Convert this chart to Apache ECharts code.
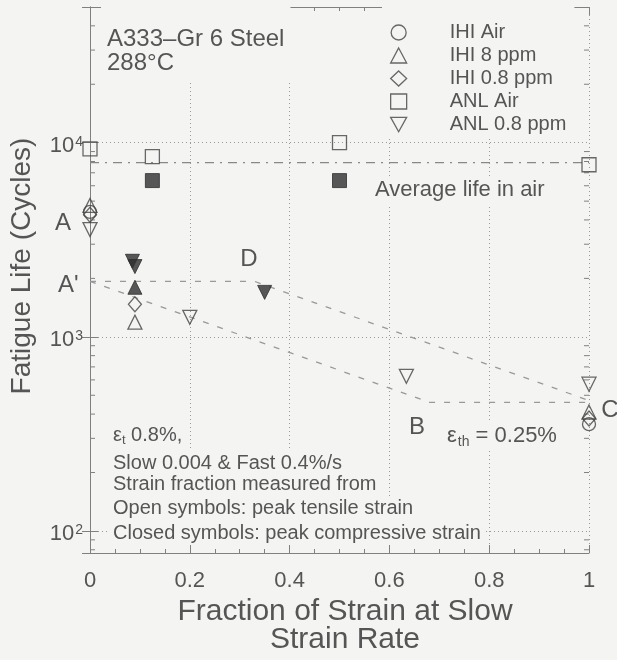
<!DOCTYPE html>
<html><head><meta charset="utf-8">
<script src="https://cdn.jsdelivr.net/npm/echarts@6/dist/echarts.min.js"></script>
<style>html,body{margin:0;padding:0;background:#f4f4f2}#c{width:617px;height:660px}</style>
</head><body><div id="c"></div>
<script>
// ---- data ----
const xTickValues = [0, 0.2, 0.4, 0.6, 0.8, 1];
const yMajorTicks = [100, 1000, 10000];
const yMinorTicks = [80, 90, 200, 300, 400, 500, 600, 700, 800, 900,
  2000, 3000, 4000, 5000, 6000, 7000, 8000, 9000, 20000, 30000, 40000];
const ihiAirOpen = [[0, 4400], [1, 355]];
const ihi8Open = [[0, 4750], [0.09, 1190], [1, 410]];
const ihi8Closed = [[0.09, 1800]];
const ihi08Open = [[0, 4250], [0.09, 1470], [1, 380]];
const anlAirOpen = [[0, 9300], [0.125, 8470], [0.5, 10000], [1, 7700]];
const anlAirClosed = [[0.125, 6380], [0.5, 6380]];
const anl08Open = [[0, 3570], [0.2, 1260], [0.634, 626], [1, 570]];
const anl08Closed = [[0.085, 2450], [0.09, 2300], [0.35, 1694]];
const avgLifeAir = [[0, 7900], [1, 7900]];
const upperTrend = [[0, 1930], [0.33, 1930], [1, 470]];
const lowerTrend = [[0, 1930], [0.68, 460], [1, 460]];
const legendNames = ['IHI Air', 'IHI 8 ppm', 'IHI 0.8 ppm', 'ANL Air', 'ANL 0.8 ppm'];

// ---- styling ----
const BG = '#f4f4f2', INK = '#555', MK = '#444', AX = '#808080';
const FONT = 'Liberation Sans, Arial, sans-serif';
const DOWN = 'path://M0,0 L10,0 L5,9 Z';
const openStyle = { color: 'rgba(0,0,0,0)', borderColor: MK, borderWidth: 1.3 };
const closedStyle = { color: '#2e2e2e', borderColor: '#2e2e2e', borderWidth: 1 };

function scatter(name, data, symbol, size, style) {
  return { type: 'scatter', name, data, symbol, symbolSize: size, itemStyle: style,
    clip: false, z: 5, emphasis: { disabled: true } };
}
function trend(data, type, color) {
  return { type: 'line', data, symbol: 'none', silent: true, z: 3,
    lineStyle: { color, width: 1.3, type } };
}
function isPow10(v) { const l = Math.log10(v); return Math.abs(l - Math.round(l)) < 1e-6; }

const chart = echarts.init(document.getElementById('c'));
const xBase = { type: 'value', min: 0, max: 1, interval: 0.2 };
const yBase = { type: 'log', min: 77, max: 50000, logBase: 10, splitNumber: 3 };

chart.setOption({
  animation: false,
  backgroundColor: BG,
  grid: { left: 90, right: 28, top: 7, bottom: 107 },
  xAxis: [
    Object.assign({}, xBase, {
      position: 'bottom',
      axisLine: { show: true, lineStyle: { color: AX, width: 1 } },
      axisTick: { show: true, inside: true, length: 8, lineStyle: { color: AX } },
      minorTick: { show: true, splitNumber: 4, length: 4, lineStyle: { color: AX } },
      axisLabel: { margin: 17, fontSize: 22, color: INK, fontFamily: FONT,
        formatter: v => xTickValues.some(t => Math.abs(t - v) < 1e-9) ? String(+v.toFixed(1)) : '' },
      splitLine: { show: true, lineStyle: { color: '#999', type: [1, 3], width: 1 } }
    }),
    Object.assign({}, xBase, {
      position: 'top',
      axisLine: { show: true, lineStyle: { color: AX, width: 1 } },
      axisTick: { show: true, inside: true, length: 8, lineStyle: { color: AX } },
      minorTick: { show: true, splitNumber: 4, length: 4, lineStyle: { color: AX } },
      axisLabel: { show: false }, splitLine: { show: false }
    })
  ],
  yAxis: [
    Object.assign({}, yBase, {
      position: 'left',
      axisLine: { show: true, lineStyle: { color: AX, width: 1 } },
      axisTick: { show: true, inside: true, length: 8, lineStyle: { color: AX } },
      axisLabel: { margin: 7, color: INK, fontFamily: FONT,
        formatter: v => isPow10(v) && yMajorTicks.indexOf(Math.round(v)) >= 0
          ? '{b|10}{s|' + Math.round(Math.log10(v)) + '}' : '',
        rich: {
          b: { fontSize: 22, lineHeight: 22, padding: [6, 0, 0, 0], color: INK, fontFamily: FONT },
          s: { fontSize: 14, lineHeight: 14, verticalAlign: 'top', padding: [3, 0, 0, 1], color: INK, fontFamily: FONT }
        } },
      splitLine: { show: true, lineStyle: { color: '#999', type: [1, 3], width: 1 } }
    }),
    Object.assign({}, yBase, {
      position: 'right',
      axisLine: { show: true, lineStyle: { color: AX, width: 1 } },
      axisTick: { show: true, inside: true, length: 8, lineStyle: { color: AX } },
      axisLabel: { show: false }, splitLine: { show: false }
    })
  ],
  legend: {
    data: legendNames,
    orient: 'vertical', left: 382, top: 7,
    padding: [14, 8, 0, 8],
    itemWidth: 16, itemHeight: 15, itemGap: 0,
    backgroundColor: BG,
    selectedMode: false,
    formatter: name => '{g|}' + name,
    textStyle: { fontSize: 20, lineHeight: 23, color: INK, fontFamily: FONT,
      rich: { g: { width: 38 } } },
    itemStyle: { color: 'rgba(0,0,0,0)', borderColor: MK, borderWidth: 1.3 }
  },
  series: [
    { type: 'custom', silent: true, clip: false, z: 2,
      data: yMinorTicks.map(v => [0, v]),
      renderItem: (params, api) => {
        const v = api.value(1);
        const l = api.coord([0, v]), r = api.coord([1, v]);
        return { type: 'group', children: [
          { type: 'line', shape: { x1: l[0], y1: l[1], x2: l[0] + 5, y2: l[1] }, style: { stroke: AX, lineWidth: 1 } },
          { type: 'line', shape: { x1: r[0] - 5, y1: r[1], x2: r[0], y2: r[1] }, style: { stroke: AX, lineWidth: 1 } }
        ] };
      } },
    trend(avgLifeAir, [9, 6, 2, 6], '#888'),
    trend(upperTrend, [6, 9], '#999'),
    trend(lowerTrend, [6, 9], '#999'),
    scatter('IHI Air', ihiAirOpen, 'circle', 13, openStyle),
    scatter('IHI 8 ppm', ihi8Open, 'triangle', 14, openStyle),
    scatter('IHI 8 ppm closed', ihi8Closed, 'triangle', 14, closedStyle),
    scatter('IHI 0.8 ppm', ihi08Open, 'diamond', [13, 15], openStyle),
    scatter('ANL Air', anlAirOpen, 'rect', 14, openStyle),
    scatter('ANL Air closed', anlAirClosed, 'rect', 14, closedStyle),
    scatter('ANL 0.8 ppm', anl08Open, DOWN, 14, openStyle),
    scatter('ANL 0.8 ppm closed', anl08Closed, DOWN, 14, closedStyle)
  ],
  graphic: [
    { type: 'text', x: 101, y: 7, z: 10, style: { text: 'A333–Gr 6 Steel\n288°C', fontSize: 24, fontFamily: FONT,
      lineHeight: 24, fill: INK, backgroundColor: BG, padding: [20, 6, 8, 6], align: 'left', verticalAlign: 'top' } },
    { type: 'text', x: 372, y: 190, z: 10, style: { text: 'Average life in air', fontSize: 22, fontFamily: FONT,
      fill: INK, backgroundColor: BG, padding: [3, 3], align: 'left', verticalAlign: 'middle' } },
    { type: 'text', x: 63, y: 223, z: 10, style: { text: 'A', fontSize: 24, fontFamily: FONT, fill: INK, align: 'center', verticalAlign: 'middle' } },
    { type: 'text', x: 58, y: 285, z: 10, style: { text: "A'", fontSize: 24, fontFamily: FONT, fill: INK, align: 'left', verticalAlign: 'middle' } },
    { type: 'text', x: 249, y: 259, z: 10, style: { text: 'D', fontSize: 24, fontFamily: FONT, fill: INK, align: 'center', verticalAlign: 'middle' } },
    { type: 'text', x: 417, y: 427, z: 10, style: { text: 'B', fontSize: 24, fontFamily: FONT, fill: INK, align: 'center', verticalAlign: 'middle' } },
    { type: 'text', x: 610, y: 410, z: 10, style: { text: 'C', fontSize: 24, fontFamily: FONT, fill: INK, align: 'center', verticalAlign: 'middle' } },
    { type: 'text', x: 444, y: 436, z: 10, style: { text: '{e|ε}{s|th}{n| = 0.25%}', align: 'left', verticalAlign: 'middle',
      backgroundColor: BG, padding: [2, 3], fill: INK,
      rich: { e: { fontSize: 22, fontFamily: FONT, fill: INK },
              s: { fontSize: 14, fontFamily: FONT, fill: INK, padding: [12, 0, 0, 1] },
              n: { fontSize: 22, fontFamily: FONT, fill: INK } } } },
    { type: 'text', x: 109, y: 435, z: 10, style: { text: '{e|ε}{s|t}{n| 0.8%,}', align: 'left', verticalAlign: 'middle',
      backgroundColor: BG, padding: [2, 4], fill: INK,
      rich: { e: { fontSize: 20, fontFamily: FONT, fill: INK },
              s: { fontSize: 13, fontFamily: FONT, fill: INK, padding: [10, 0, 0, 0] },
              n: { fontSize: 20, fontFamily: FONT, fill: INK } } } },
    { type: 'text', x: 109, y: 463, z: 10, style: { text: 'Slow 0.004 & Fast 0.4%/s', fontSize: 20, fontFamily: FONT, fill: INK,
      backgroundColor: BG, padding: [2, 4], align: 'left', verticalAlign: 'middle' } },
    { type: 'text', x: 109, y: 484, z: 10, style: { text: 'Strain fraction measured from', fontSize: 20, fontFamily: FONT, fill: INK,
      backgroundColor: BG, padding: [2, 4], align: 'left', verticalAlign: 'middle' } },
    { type: 'text', x: 109, y: 508, z: 10, style: { text: 'Open symbols: peak tensile strain', fontSize: 20, fontFamily: FONT, fill: INK,
      backgroundColor: BG, padding: [2, 4], align: 'left', verticalAlign: 'middle' } },
    { type: 'text', x: 109, y: 533, z: 10, style: { text: 'Closed symbols: peak compressive strain', fontSize: 20, fontFamily: FONT, fill: INK,
      backgroundColor: BG, padding: [2, 4], align: 'left', verticalAlign: 'middle' } },
    { type: 'text', x: 345, y: 626, z: 10, style: { text: 'Fraction of Strain at Slow\nStrain Rate', fontSize: 30, lineHeight: 28,
      fontFamily: FONT, fill: INK, align: 'center', verticalAlign: 'middle' } },
    { type: 'text', x: 22, y: 266, rotation: Math.PI / 2, z: 10, style: { text: 'Fatigue Life (Cycles)', fontSize: 28,
      fontFamily: FONT, fill: INK, align: 'center', verticalAlign: 'middle' } }
  ]
});
</script></body></html>
